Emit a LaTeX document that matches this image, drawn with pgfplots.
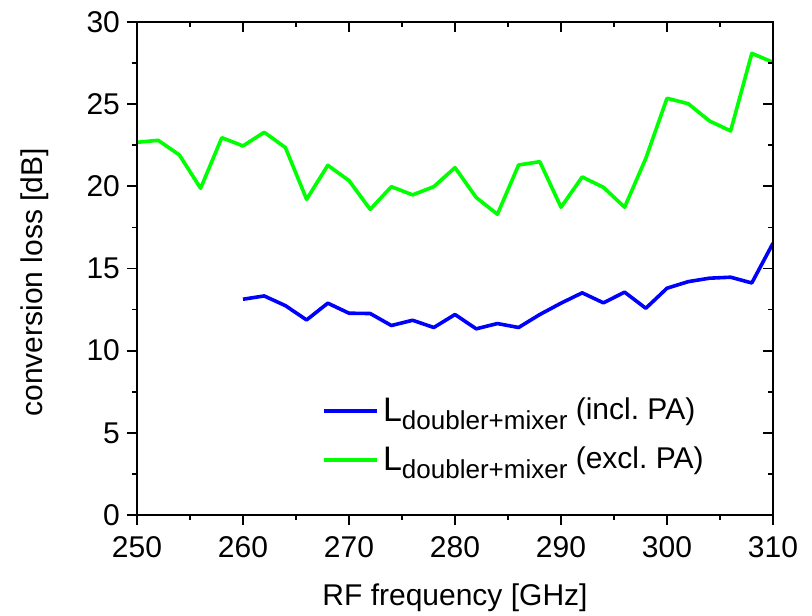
\documentclass[border=0pt]{standalone}
\usepackage{fontspec}
\setmainfont{Liberation Sans}
\usepackage{pgfplots}
\pgfplotsset{compat=1.18}
\frenchspacing
\definecolor{cblue}{RGB}{0,0,255}
\definecolor{cgreen}{RGB}{0,255,0}
\newcommand{\Lsub}[1]{{\fontsize{17}{20}\selectfont L}\raisebox{-4pt}{\fontsize{13}{15}\selectfont doubler+mixer}{\fontsize{15}{18}\selectfont\ \raisebox{1pt}{(#1)}}}
\pgfplotsset{
  common/.style={
    width=318pt, height=246.5pt, scale only axis,
    at={(0,0)}, anchor=south west,
    xmin=250, xmax=310, ymin=0, ymax=30,
    xtick={250,260,...,310}, ytick={0,5,...,30},
    minor x tick num=1, minor y tick num=1,
    major tick length=5pt, minor tick length=2.5pt,
    every tick/.style={black, line width=0.9pt},
    axis line style={black, line width=0.9pt},
    tick label style={font=\fontsize{15}{18}\selectfont},
    /pgf/number format/assume math mode=true,
  }
}
\begin{document}
\begin{tikzpicture}
\path[use as bounding box] (-68.5pt,-50pt) rectangle (337.5pt,257.5pt);
\begin{axis}[common,
  xtick pos=left, ytick pos=left, tick align=outside,
  xticklabel style={yshift=-2pt},
  xlabel={RF frequency [GHz]},
  ylabel={conversion loss [dB]},
  every axis x label/.style={at={(axis description cs:0.5,-0.1684)}, anchor=center, font=\fontsize{15}{18}\selectfont},
  every axis y label/.style={at={(axis description cs:-0.1604,0.472)}, rotate=90, anchor=center, font=\fontsize{15}{18}\selectfont},
  legend style={at={(axis description cs:0.291,0.247)}, anchor=north west, draw=none, fill=none, inner sep=0pt, row sep=7pt, nodes={inner sep=2pt}},
  legend cell align=left,
  legend image code/.code={\draw[#1] (0pt,0pt) -- (26.5pt,0pt);},
]
\addplot[cblue, line width=1.8pt, line join=round] coordinates {
(260,13.13) (262,13.33) (264,12.74) (266,11.87) (268,12.89) (270,12.28)
(272,12.26) (274,11.53) (276,11.85) (278,11.41) (280,12.2) (282,11.33)
(284,11.65) (286,11.41) (288,12.2) (290,12.89) (292,13.52) (294,12.91)
(296,13.56) (298,12.58) (300,13.8) (302,14.2) (304,14.41) (306,14.47)
(308,14.12) (310,16.54)};
\addlegendentry{\Lsub{incl. PA}}
\addplot[cgreen, line width=1.8pt, line join=round] coordinates {
(250,22.68) (252,22.8) (254,21.91) (256,19.88) (258,22.96) (260,22.46)
(262,23.29) (264,22.36) (266,19.21) (268,21.28) (270,20.35) (272,18.6)
(274,19.98) (276,19.48) (278,19.98) (280,21.14) (282,19.32) (284,18.3)
(286,21.3) (288,21.5) (290,18.73) (292,20.57) (294,19.94) (296,18.73)
(298,21.7) (300,25.36) (302,25.03) (304,23.98) (306,23.37) (308,28.09)
(310,27.55)};
\addlegendentry{\Lsub{excl. PA}}
\end{axis}
\begin{axis}[common,
  xtick pos=right, ytick pos=right, tick align=inside,
  xticklabels={}, yticklabels={},
]
\end{axis}
\end{tikzpicture}
\end{document}
